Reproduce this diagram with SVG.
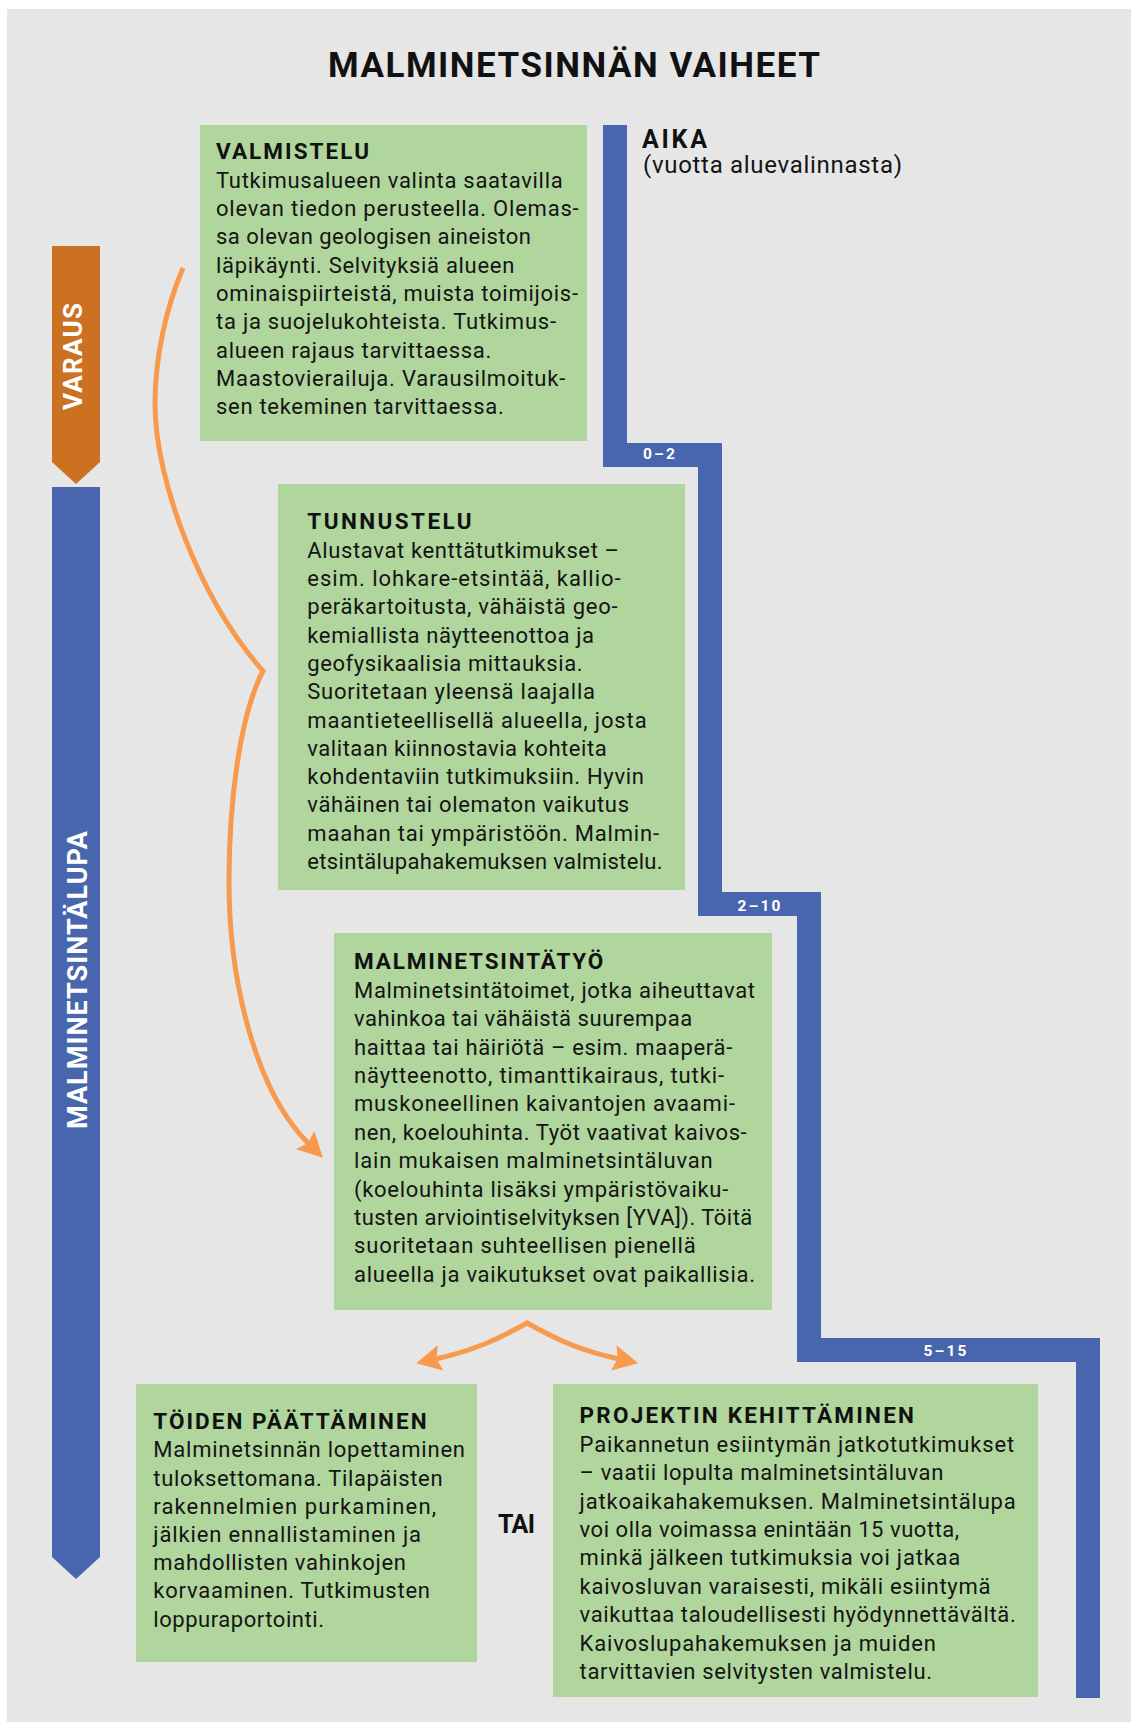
<svg xmlns="http://www.w3.org/2000/svg" width="1131" height="1722" viewBox="0 0 1131 1722">
<style>
.bg{fill:#e6e6e6}
.box{fill:#b0d69d}
.body{font-family:Roboto,"Liberation Sans",sans-serif;font-size:22px;fill:#141414}
.head{font-family:Roboto,"Liberation Sans",sans-serif;font-size:22.5px;font-weight:bold;fill:#111}
.lab{font-family:Roboto,"Liberation Sans",sans-serif;font-size:15.5px;font-weight:bold;fill:#fff;text-anchor:middle}
.side{font-family:Roboto,"Liberation Sans",sans-serif;font-weight:bold;fill:#fff;text-anchor:middle}
.arc{fill:none;stroke:#f79a4e;stroke-width:5;stroke-linejoin:miter;stroke-miterlimit:10}
</style>
<defs>
<marker id="ah" markerUnits="userSpaceOnUse" markerWidth="30" markerHeight="30" refX="4" refY="13" orient="auto-start-reverse">
<path d="M0,0 L25,13 L0,26 L4,13 Z" fill="#f79a4e"/>
</marker>
</defs>
<rect class="bg" x="7" y="9" width="1124" height="1713"/>
<text x="574" y="77" text-anchor="middle" textLength="492" style="font-family:Roboto,'Liberation Sans',sans-serif;font-size:35px;font-weight:bold;fill:#111">MALMINETSINNÄN VAIHEET</text>

<g id="varaus">
<path d="M52,246 H100 V462 L76,484 L52,462 Z" fill="#cc7022"/>
<text class="side" transform="translate(82,356.5) rotate(-90)" style="font-size:26px" textLength="107">VARAUS</text>
</g>
<g id="malminetsintalupa">
<path d="M52,487 H100 V1557 L76,1579 L52,1557 Z" fill="#4866ae"/>
<text class="side" transform="translate(87,980) rotate(-90)" style="font-size:27px" textLength="298">MALMINETSINTÄLUPA</text>
</g>

<g id="aika">
<polyline points="615,125 615,455 710,455 710,904 809,904 809,1350 1088,1350 1088,1698" fill="none" stroke="#4866ae" stroke-width="24" stroke-linejoin="miter"/>
<text x="642" y="148" style="font-family:Roboto,'Liberation Sans',sans-serif;font-size:25px;font-weight:bold;fill:#111" textLength="65">AIKA</text>
<text x="643" y="173" style="font-family:Roboto,'Liberation Sans',sans-serif;font-size:24px;fill:#141414" textLength="259">(vuotta aluevalinnasta)</text>
<text class="lab" x="659" y="459" textLength="32">0–2</text>
<text class="lab" x="759" y="911" textLength="43">2–10</text>
<text class="lab" x="945" y="1356" textLength="43">5–15</text>
</g>

<g id="valmistelu">
<rect class="box" x="200" y="125" width="387" height="316"/>
<text class="head" x="216" y="159" textLength="153">VALMISTELU</text>
<text class="body">
<tspan x="216" y="187.7" textLength="346.7">Tutkimusalueen valinta saatavilla</tspan>
<tspan x="216" y="216" textLength="362.7">olevan tiedon perusteella. Olemas-</tspan>
<tspan x="216" y="244.3" textLength="315">sa olevan geologisen aineiston</tspan>
<tspan x="216" y="272.6" textLength="298.3">läpikäynti. Selvityksiä alueen</tspan>
<tspan x="216" y="300.9" textLength="362">ominaispiirteistä, muista toimijois-</tspan>
<tspan x="216" y="329.2" textLength="340">ta ja suojelukohteista. Tutkimus-</tspan>
<tspan x="216" y="357.5" textLength="275.3">alueen rajaus tarvittaessa.</tspan>
<tspan x="216" y="385.8" textLength="349.3">Maastovierailuja. Varausilmoituk-</tspan>
<tspan x="216" y="414.1" textLength="287.7">sen tekeminen tarvittaessa.</tspan>
</text>
</g>

<g id="tunnustelu">
<rect class="box" x="278" y="484" width="407" height="406"/>
<text class="head" x="307.3" y="529" textLength="164.3">TUNNUSTELU</text>
<text class="body">
<tspan x="307.3" y="557.7" textLength="311.7">Alustavat kenttätutkimukset –</tspan>
<tspan x="307.3" y="586" textLength="313.3">esim. lohkare-etsintää, kallio-</tspan>
<tspan x="307.3" y="614.3" textLength="310.3">peräkartoitusta, vähäistä geo-</tspan>
<tspan x="307.3" y="642.6" textLength="286.7">kemiallista näytteenottoa ja</tspan>
<tspan x="307.3" y="670.9" textLength="275.3">geofysikaalisia mittauksia.</tspan>
<tspan x="307.3" y="699.2" textLength="287.7">Suoritetaan yleensä laajalla</tspan>
<tspan x="307.3" y="727.5" textLength="339.3">maantieteellisellä alueella, josta</tspan>
<tspan x="307.3" y="755.8" textLength="299.3">valitaan kiinnostavia kohteita</tspan>
<tspan x="307.3" y="784.1" textLength="336.7">kohdentaviin tutkimuksiin. Hyvin</tspan>
<tspan x="307.3" y="812.4" textLength="321.7">vähäinen tai olematon vaikutus</tspan>
<tspan x="307.3" y="840.7" textLength="351.7">maahan tai ympäristöön. Malmin-</tspan>
<tspan x="307.3" y="869" textLength="355.3">etsintälupahakemuksen valmistelu.</tspan>
</text>
</g>

<g id="malminetsintatyo">
<rect class="box" x="334" y="933" width="438" height="377"/>
<text class="head" x="354" y="969.3" textLength="249.3">MALMINETSINTÄTYÖ</text>
<text class="body">
<tspan x="354" y="997.7" textLength="401">Malminetsintätoimet, jotka aiheuttavat</tspan>
<tspan x="354" y="1026.1" textLength="338.3">vahinkoa tai vähäistä suurempaa</tspan>
<tspan x="354" y="1054.5" textLength="378.3">haittaa tai häiriötä – esim. maaperä-</tspan>
<tspan x="354" y="1082.9" textLength="370">näytteenotto, timanttikairaus, tutki-</tspan>
<tspan x="354" y="1111.3" textLength="381">muskoneellinen kaivantojen avaami-</tspan>
<tspan x="354" y="1139.7" textLength="392.7">nen, koelouhinta. Työt vaativat kaivos-</tspan>
<tspan x="354" y="1168.1" textLength="358.7">lain mukaisen malminetsintäluvan</tspan>
<tspan x="354" y="1196.5" textLength="374.3">(koelouhinta lisäksi ympäristövaiku-</tspan>
<tspan x="354" y="1224.9" textLength="398.3">tusten arviointiselvityksen [YVA]). Töitä</tspan>
<tspan x="354" y="1253.3" textLength="341.7">suoritetaan suhteellisen pienellä</tspan>
<tspan x="354" y="1281.7" textLength="401">alueella ja vaikutukset ovat paikallisia.</tspan>
</text>
</g>

<g id="toiden-paattaminen">
<rect class="box" x="136" y="1384" width="341" height="278"/>
<text class="head" x="153.3" y="1429.3" textLength="273.3">TÖIDEN PÄÄTTÄMINEN</text>
<text class="body">
<tspan x="153.3" y="1457.3" textLength="311.7">Malminetsinnän lopettaminen</tspan>
<tspan x="153.3" y="1485.5" textLength="289.3">tuloksettomana. Tilapäisten</tspan>
<tspan x="153.3" y="1513.7" textLength="282.7">rakennelmien purkaminen,</tspan>
<tspan x="153.3" y="1541.9" textLength="267.7">jälkien ennallistaminen ja</tspan>
<tspan x="153.3" y="1570.1" textLength="252.7">mahdollisten vahinkojen</tspan>
<tspan x="153.3" y="1598.3" textLength="276.7">korvaaminen. Tutkimusten</tspan>
<tspan x="153.3" y="1626.5" textLength="170.7">loppuraportointi.</tspan>
</text>
</g>

<g id="tai">
<text x="498" y="1533" style="font-family:Roboto,'Liberation Sans',sans-serif;font-size:25px;font-weight:bold;fill:#111" textLength="37">TAI</text>
</g>

<g id="projektin-kehittaminen">
<rect class="box" x="553" y="1384" width="485" height="313"/>
<text class="head" x="579.6" y="1423.3" textLength="334.3">PROJEKTIN KEHITTÄMINEN</text>
<text class="body">
<tspan x="579.6" y="1451.7" textLength="434.5">Paikannetun esiintymän jatkotutkimukset</tspan>
<tspan x="579.6" y="1480.1" textLength="363.7">– vaatii lopulta malminetsintäluvan</tspan>
<tspan x="579.6" y="1508.5" textLength="436.1">jatkoaikahakemuksen. Malminetsintälupa</tspan>
<tspan x="579.6" y="1536.9" textLength="379.6">voi olla voimassa enintään 15 vuotta,</tspan>
<tspan x="579.6" y="1565.3" textLength="380.7">minkä jälkeen tutkimuksia voi jatkaa</tspan>
<tspan x="579.6" y="1593.7" textLength="410.9">kaivosluvan varaisesti, mikäli esiintymä</tspan>
<tspan x="579.6" y="1622.1" textLength="436.1">vaikuttaa taloudellisesti hyödynnettävältä.</tspan>
<tspan x="579.6" y="1650.5" textLength="356.2">Kaivoslupahakemuksen ja muiden</tspan>
<tspan x="579.6" y="1678.9" textLength="352.4">tarvittavien selvitysten valmistelu.</tspan>
</text>
</g>

<g id="connectors">
<path class="arc" d="M183,268 C165,310 155,360 155,404 C155,480 200,600 263,671 C240,715 229,800 229,882 C229,980 255,1090 308,1143" marker-end="url(#ah)"/>
<path class="arc" d="M436.6,1358.7 C476,1350 500,1338 527,1323 C554,1338 578,1350 617.7,1358.7" marker-start="url(#ah)" marker-end="url(#ah)"/>
</g>
</svg>
